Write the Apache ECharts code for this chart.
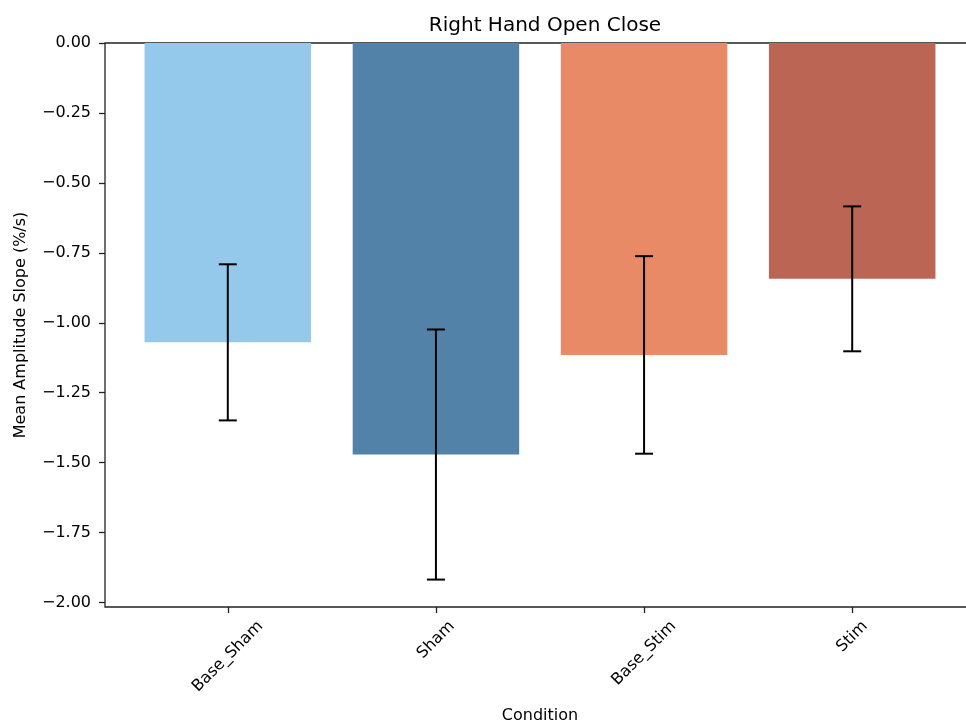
<!DOCTYPE html>
<html>
<head>
<meta charset="utf-8">
<script src="https://cdn.jsdelivr.net/npm/echarts@6/dist/echarts.min.js"></script>
<style>
  html, body { margin: 0; padding: 0; background: #fff; }
  #chart { width: 966px; height: 728px; }
</style>
</head>
<body>
<div id="chart"></div>
<script>
// Condition names, mean slopes and their error half-widths
const categories = ['Base_Sham', 'Sham', 'Base_Stim', 'Stim'];
const meanSlope = [-1.070, -1.471, -1.115, -0.843];
const errorHalf = [0.279, 0.447, 0.353, 0.259];
const barColors = ['#95c9ec', '#5282a8', '#e98a66', '#bb6655'];
const yTicks = [0, -0.25, -0.5, -0.75, -1, -1.25, -1.5, -1.75, -2];
const xTicks = [0, 1, 2, 3];

const FONT = '"DejaVu Sans", "Liberation Sans", sans-serif';
const TICK_SIZE = 16;
const Y_MIN = -2.016;
const X_MIN = -0.59, X_MAX = 3.59;
const BAR_HALF = 0.4;

function fmtTick(v) {
  const s = Math.abs(v).toFixed(2);
  return v < 0 ? '\u2212' + s : s;
}

// text width measurement for centring rotated category labels
const measureCtx = document.createElement('canvas').getContext('2d');
measureCtx.font = TICK_SIZE + 'px ' + FONT;
function textWidth(t) { return measureCtx.measureText(t).width; }

const chart = echarts.init(document.getElementById('chart'), null, { renderer: 'canvas' });

const option = {
  backgroundColor: '#ffffff',
  animation: false,
  title: {
    text: 'Right Hand Open Close',
    left: 540,
    top: 11,
    textAlign: 'center',
    textStyle: { fontFamily: FONT, fontSize: 20, fontWeight: 'normal', color: '#000' }
  },
  grid: {
    left: 105, top: 43, right: -9, bottom: 121,
    show: true, borderColor: '#222', borderWidth: 1.3,
    outerBoundsMode: 'none', containLabel: false
  },
  xAxis: {
    type: 'value',
    min: X_MIN, max: X_MAX,
    name: 'Condition',
    nameLocation: 'middle',
    nameGap: 101,
    nameTextStyle: { fontFamily: FONT, fontSize: TICK_SIZE, color: '#000' },
    axisLine: { show: false, onZero: false },
    axisTick: { show: true, customValues: xTicks, length: 6, lineStyle: { color: '#222', width: 1.3 } },
    axisLabel: { show: false },
    splitLine: { show: false }
  },
  yAxis: {
    type: 'value',
    min: Y_MIN, max: 0,
    name: 'Mean Amplitude Slope (%/s)',
    nameLocation: 'middle',
    nameGap: 76,
    nameTextStyle: { fontFamily: FONT, fontSize: TICK_SIZE, color: '#000' },
    axisLine: { show: false, onZero: false },
    axisTick: { show: true, customValues: yTicks, length: 6, lineStyle: { color: '#222', width: 1.3 } },
    axisLabel: {
      show: true, customValues: yTicks, margin: 14,
      fontFamily: FONT, fontSize: TICK_SIZE, color: '#000',
      formatter: fmtTick
    },
    splitLine: { show: false }
  },
  series: [
    {
      // bars
      type: 'custom',
      data: categories.map((c, i) => [i, meanSlope[i]]),
      renderItem: function (params, api) {
        const i = api.value(0);
        const p0 = api.coord([i - BAR_HALF, 0]);
        const p1 = api.coord([i + BAR_HALF, api.value(1)]);
        return {
          type: 'rect',
          shape: { x: p0[0], y: p0[1], width: p1[0] - p0[0], height: p1[1] - p0[1] },
          style: { fill: barColors[i] }
        };
      },
      z: 2
    },
    {
      // error bars with caps
      type: 'custom',
      data: categories.map((c, i) => [i, meanSlope[i], errorHalf[i]]),
      renderItem: function (params, api) {
        const i = api.value(0), m = api.value(1), e = api.value(2);
        const top = api.coord([i, m + e]);
        const bot = api.coord([i, m - e]);
        const cap = 9;
        const st = { stroke: '#000', lineWidth: 2 };
        return {
          type: 'group',
          children: [
            { type: 'line', shape: { x1: top[0], y1: top[1], x2: bot[0], y2: bot[1] }, style: st },
            { type: 'line', shape: { x1: top[0] - cap, y1: top[1], x2: top[0] + cap, y2: top[1] }, style: st },
            { type: 'line', shape: { x1: bot[0] - cap, y1: bot[1], x2: bot[0] + cap, y2: bot[1] }, style: st }
          ]
        };
      },
      z: 3
    },
    {
      // rotated category labels, centred under each tick
      type: 'custom',
      clip: false,
      silent: true,
      data: categories.map((c, i) => [i]),
      renderItem: function (params, api) {
        const i = api.value(0);
        const base = api.coord([i, Y_MIN]);
        const label = categories[i];
        const w = textWidth(label);
        const cy = base[1] + 11.2 + (w + TICK_SIZE) / (2 * Math.SQRT2);
        return {
          type: 'text',
          x: base[0], y: cy,
          rotation: Math.PI / 4,
          style: {
            text: label,
            font: TICK_SIZE + 'px ' + FONT,
            fill: '#000',
            align: 'center',
            verticalAlign: 'middle'
          }
        };
      },
      z: 4
    }
  ]
};

chart.setOption(option);
</script>
</body>
</html>
